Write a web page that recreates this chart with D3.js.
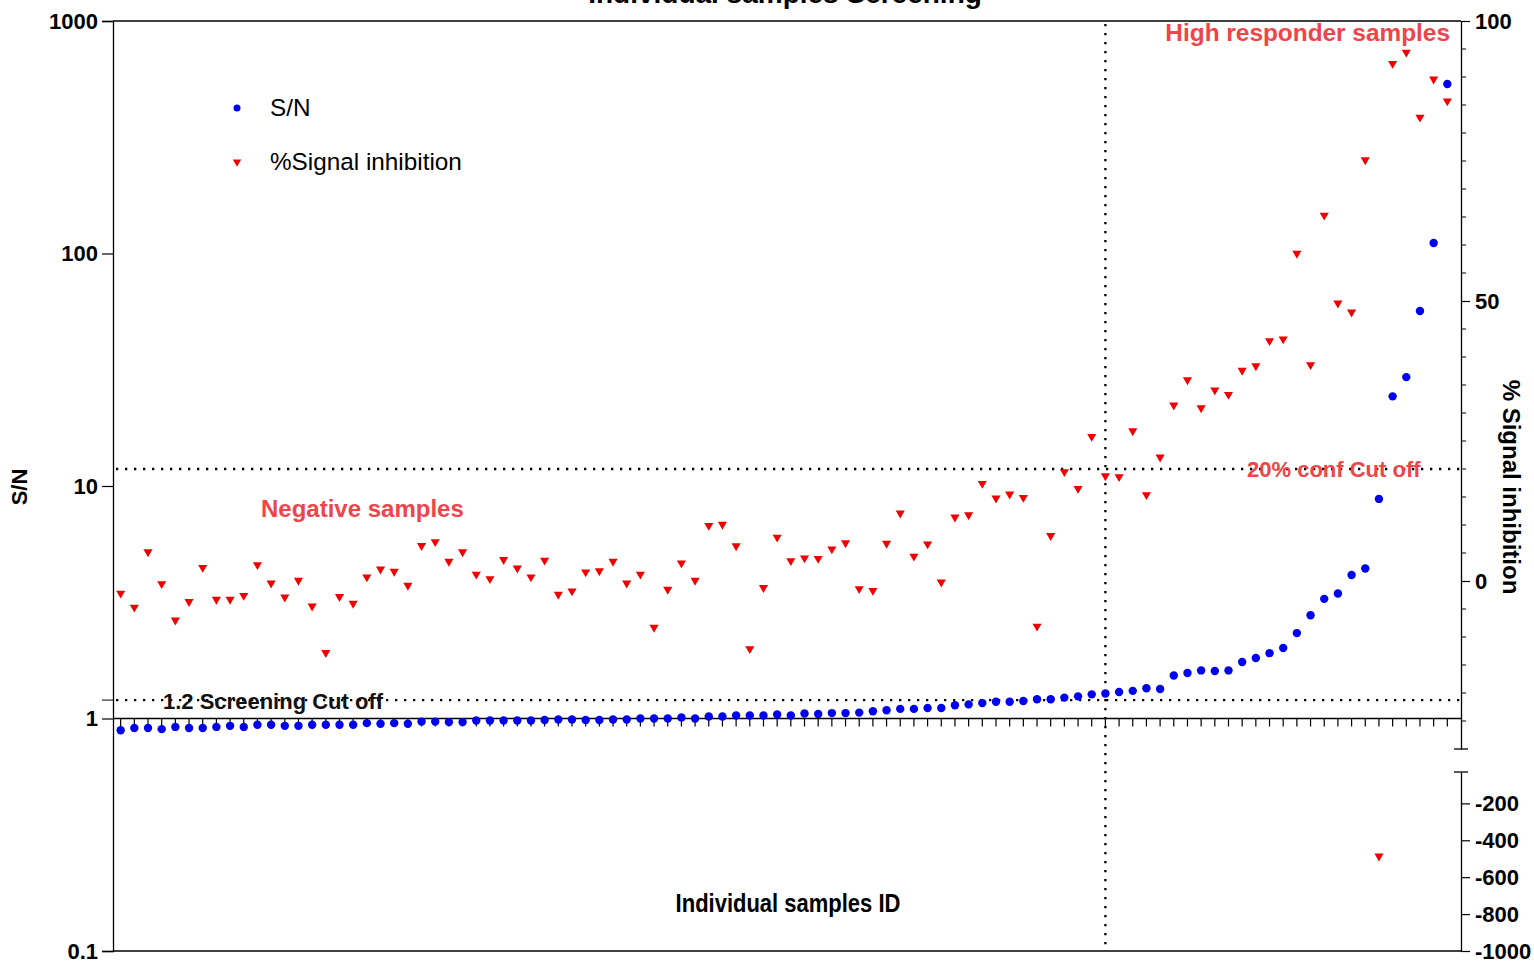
<!DOCTYPE html>
<html>
<head>
  <meta charset="utf-8">
  <title>Individual samples Screening</title>
  <script src="https://d3js.org/d3.v7.min.js"></script>
  <style>
    body { margin: 0; background: #fff; }
    svg text { font-family: "Liberation Sans", Arial, sans-serif; }
  </style>
</head>
<body>
<div id="chart"></div>
<script>
// S/N per sample (sorted)
var snValues = [0.89,0.91,0.91,0.90,0.92,0.91,0.91,0.92,0.93,0.92,
  0.94,0.94,0.93,0.93,0.94,0.94,0.94,0.94,0.955,0.95,
  0.955,0.95,0.97,0.97,0.965,0.965,0.98,0.98,0.98,0.98,
  0.98,0.985,0.99,0.99,0.985,0.985,0.99,0.99,1.0,1.0,
  1.0,1.01,1.0,1.02,1.02,1.03,1.03,1.03,1.04,1.03,
  1.05,1.045,1.055,1.055,1.06,1.075,1.085,1.10,1.10,1.11,
  1.11,1.14,1.15,1.165,1.18,1.18,1.19,1.21,1.21,1.23,
  1.245,1.27,1.28,1.30,1.315,1.35,1.34,1.53,1.57,1.61,
  1.60,1.61,1.75,1.82,1.91,2.01,2.33,2.78,3.27,3.45,
  4.14,4.42,8.8,24.3,29.4,56.6,111,536];

// % signal inhibition per sample
var inhValues = [-2.2,-4.7,5.2,-0.5,-7.0,-3.7,2.4,-3.3,-3.3,-2.6,
  2.9,-0.4,-2.9,0.1,-4.5,-12.8,-2.8,-4.0,0.7,2.1,
  1.7,-0.8,6.3,7.0,3.5,5.2,1.2,0.4,3.8,2.3,
  0.7,3.7,-2.4,-1.8,1.6,1.8,3.5,-0.4,1.2,-8.3,
  -1.5,3.2,0.1,9.9,10.1,6.25,-12.1,-1.2,7.8,3.6,
  4.1,4.0,5.7,6.8,-1.4,-1.7,6.7,12.1,4.4,6.6,
  -0.2,11.4,11.8,17.4,14.8,15.5,14.9,-8.1,8.1,19.5,
  16.5,25.8,18.75,18.6,26.8,15.4,22.1,31.4,35.9,30.9,
  34.1,33.3,37.6,38.4,42.9,43.2,58.5,38.6,65.3,49.6,
  48.0,75.2,-486,92.4,94.4,82.8,89.6,85.7];

var leftTicks = [0.1, 1, 10, 100, 1000];
var rightTopTicks = [0, 50, 100];
var rightTopMinor = [-25,-20,-15,-10,-5,5,10,15,20,25,30,35,40,45,55,60,65,70,75,80,85,90,95];
var rightBotTicks = [-200, -400, -600, -800, -1000];
var breakAt = -30;
var screenCut = 1.2;     // S/N cut off
var confCut = 20;        // % inhibition cut off
var splitSample = 72;    // vertical line

var W = 1534, H = 962;
var L = 113, R = 1461, T = 21, B = 951;
var redText = "#ef4449";
var fmt = function(d) { return String(d); };

var svg = d3.select("#chart").append("svg")
  .attr("width", W).attr("height", H);

var x = d3.scaleLinear().domain([-0.56, snValues.length]).range([L, R]);
var y = d3.scaleLog().domain([0.1, 1000]).range([B, T]);
var yTop = d3.scaleLinear().domain([breakAt, 100]).range([749, T]);
var yBot = d3.scaleLinear().domain([-1000, breakAt]).range([B, 772]);
function yInh(v) { return v >= breakAt ? yTop(v) : yBot(v); }

function styleAxis(g) {
  g.select(".domain").attr("stroke-width", 1.3);
  g.selectAll(".tick line").attr("stroke-width", 1.2);
  g.selectAll("text").attr("font-size", 22).attr("font-weight", "bold").attr("fill", "#000")
    .attr("font-family", "Liberation Sans, Arial, sans-serif");
}

// frame lines top and bottom
svg.append("line").attr("x1", L).attr("x2", R).attr("y1", T).attr("y2", T)
  .attr("stroke", "#000").attr("stroke-width", 1.3);
svg.append("line").attr("x1", L).attr("x2", R).attr("y1", B).attr("y2", B)
  .attr("stroke", "#000").attr("stroke-width", 1.3);

// left axis
var gl = svg.append("g").attr("transform", "translate(" + L + ",0)")
  .call(d3.axisLeft(y).tickValues(leftTicks).tickSize(11).tickPadding(4).tickFormat(fmt));
styleAxis(gl);
gl.append("line").attr("x1", -11).attr("x2", 0).attr("y1", y(screenCut)).attr("y2", y(screenCut))
  .attr("stroke", "#000");

// right axis, upper part
var gr = svg.append("g").attr("transform", "translate(" + R + ",0)")
  .call(d3.axisRight(yTop).tickValues(rightTopTicks).tickSize(9).tickPadding(5)
    .tickSizeOuter(0).tickFormat(fmt));
styleAxis(gr);
gr.selectAll(".minor").data(rightTopMinor).enter().append("line")
  .attr("x1", 0).attr("x2", 5)
  .attr("y1", function(d) { return yTop(d); }).attr("y2", function(d) { return yTop(d); })
  .attr("stroke", "#000");
// right axis, lower part
var gr2 = svg.append("g").attr("transform", "translate(" + R + ",0)")
  .call(d3.axisRight(yBot).tickValues(rightBotTicks).tickSize(9).tickPadding(5)
    .tickSizeOuter(0).tickFormat(fmt));
styleAxis(gr2);
[yTop(breakAt), yBot(breakAt)].forEach(function(yy) {
  svg.append("line").attr("x1", R - 7).attr("x2", R + 7).attr("y1", yy).attr("y2", yy)
    .attr("stroke", "#000").attr("stroke-width", 1.3);
});

// x axis at S/N = 1
var x0 = y(1);
svg.append("line").attr("x1", L).attr("x2", R).attr("y1", x0).attr("y2", x0)
  .attr("stroke", "#000").attr("stroke-width", 1.3);
svg.selectAll(".xt").data(snValues).enter().append("line")
  .attr("x1", function(d, i) { return x(i); }).attr("x2", function(d, i) { return x(i); })
  .attr("y1", x0).attr("y2", x0 + 8)
  .attr("stroke", "#000").attr("stroke-width", 1.2);

// dotted reference lines
function dotted(x1, y1, x2, y2) {
  svg.append("line").attr("x1", x1).attr("y1", y1).attr("x2", x2).attr("y2", y2)
    .attr("stroke", "#000").attr("stroke-width", 2.3)
    .attr("stroke-dasharray", "2.3 6.7");
}
dotted(L + 3, y(screenCut), R, y(screenCut));
dotted(L + 3, yTop(confCut), R, yTop(confCut));
dotted(x(splitSample), T + 3, x(splitSample), B);

// red triangles
svg.selectAll(".tri").data(inhValues).enter().append("path")
  .attr("d", d3.symbol().type(d3.symbolTriangle).size(36))
  .attr("transform", function(d, i) { return "translate(" + x(i) + "," + yInh(d) + ") rotate(180)"; })
  .attr("fill", "#f00000");

// blue dots
svg.selectAll(".dot").data(snValues).enter().append("circle")
  .attr("cx", function(d, i) { return x(i); })
  .attr("cy", function(d) { return y(d); })
  .attr("r", 4.2)
  .attr("fill", "#0000f0");

// legend
svg.append("circle").attr("cx", 237).attr("cy", 108).attr("r", 3.5).attr("fill", "#0000f0");
svg.append("path").attr("d", d3.symbol().type(d3.symbolTriangle).size(30))
  .attr("transform", "translate(237,162) rotate(180)").attr("fill", "#f00000");
svg.append("text").attr("x", 270).attr("y", 116).attr("font-size", 24.3).text("S/N");
svg.append("text").attr("x", 270).attr("y", 170).attr("font-size", 24.3).text("%Signal inhibition");

// annotations
svg.append("text").attr("x", 261).attr("y", 517).attr("font-size", 24).attr("font-weight", "bold")
  .attr("fill", redText).text("Negative samples");
svg.append("text").attr("x", 1450).attr("y", 41).attr("text-anchor", "end").attr("font-size", 24.4)
  .attr("font-weight", "bold").attr("fill", redText).text("High responder samples");
svg.append("text").attr("x", 1247).attr("y", 477).attr("font-size", 22).attr("font-weight", "bold")
  .attr("fill", redText).text("20% conf Cut off");
svg.append("text").attr("x", 163).attr("y", 709).attr("font-size", 22).attr("font-weight", "bold")
  .attr("fill", "#111").text("1.2 Screening Cut off");

// titles
svg.append("text").attr("x", 785).attr("y", 3).attr("text-anchor", "middle")
  .attr("font-size", 28).attr("font-weight", "bold").text("Individual samples Screening");
svg.append("text").attr("x", 788).attr("y", 912).attr("text-anchor", "middle")
  .attr("font-size", 22).attr("font-weight", "bold")
  .style("font-family", "'Liberation Sans Narrow', 'Liberation Sans', Arial, sans-serif")
  .attr("transform", "translate(788,912) scale(1,1.15) translate(-788,-912)")
  .text("Individual samples ID");
svg.append("text").attr("transform", "translate(27,487) rotate(-90)").attr("text-anchor", "middle")
  .attr("font-size", 22).attr("font-weight", "bold").text("S/N");
svg.append("text").attr("transform", "translate(1503,487) rotate(90)").attr("text-anchor", "middle")
  .attr("font-size", 24).attr("font-weight", "bold").text("% Signal inhibition");
</script>
</body>
</html>
